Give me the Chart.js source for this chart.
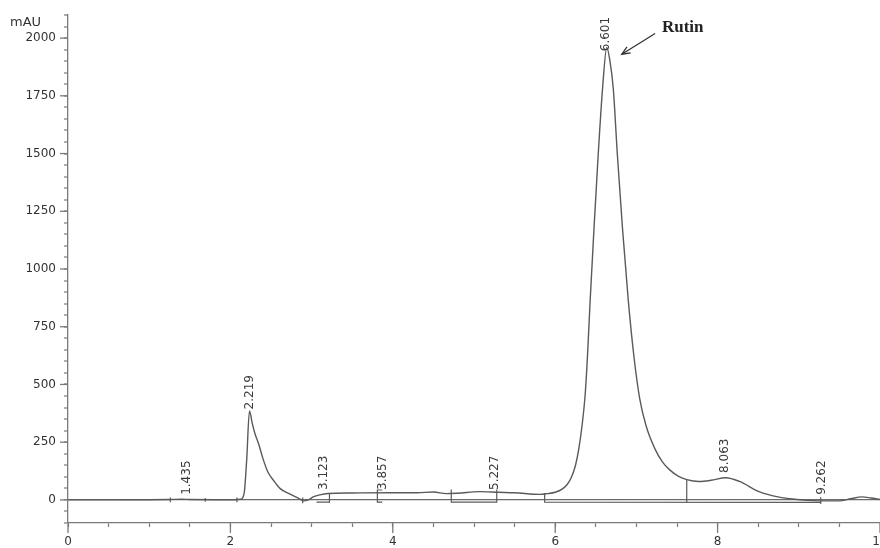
<!DOCTYPE html>
<html>
<head>
<meta charset="utf-8">
<script src="https://cdn.jsdelivr.net/npm/chart.js@4/dist/chart.umd.min.js"></script>
<style>
  html, body { margin: 0; padding: 0; background: #ffffff; }
  #wrap { width: 880px; height: 548px; }
</style>
</head>
<body>
<div id="wrap"><canvas id="c" width="880" height="548"></canvas></div>
<script>
// ---- Data ----
const times = [0, 0.5, 1.0, 1.25, 1.4, 1.5, 1.8, 2.05, 2.13, 2.17, 2.2, 2.235, 2.27, 2.30, 2.35, 2.40, 2.46, 2.53, 2.61, 2.73, 2.85, 2.9, 2.96, 3.02, 3.1, 3.2, 3.5, 4.0, 4.3, 4.5, 4.66, 4.8, 5.07, 5.3, 5.5, 5.81, 5.9, 6.0, 6.09, 6.15, 6.2, 6.25, 6.29, 6.33, 6.37, 6.40, 6.43, 6.48, 6.53, 6.585, 6.635, 6.67, 6.715, 6.765, 6.83, 6.90, 6.97, 7.04, 7.12, 7.23, 7.32, 7.41, 7.52, 7.62, 7.77, 7.92, 8.1, 8.27, 8.51, 8.76, 8.92, 9.1, 9.25, 9.5, 9.64, 9.78, 9.89, 10];
const signal = [0, 0, 1, 2, 3, 2, 1, 1, 3, 30, 170, 385, 330, 290, 240, 180, 122, 85, 50, 26, 5, -4, 0, 13, 22, 28, 30, 31, 31, 34, 27, 29, 36, 33, 31, 24, 27, 33, 48, 68, 98, 150, 220, 320, 460, 640, 860, 1190, 1498, 1790, 1960, 1910, 1783, 1498, 1170, 864, 620, 440, 320, 220, 165, 130, 102, 88, 80, 85, 96, 80, 36, 12, 4, -2, -4, -4, 5, 13, 8, 2];

const peakTimes  = [1.435, 2.219, 3.123, 3.857, 5.227, 6.601, 8.063, 9.262];
const peakLabels = ['1.435', '2.219', '3.123', '3.857', '5.227', '6.601', '8.063', '9.262'];
const labelBase  = [22, 392, 43, 43, 43, 1943, 117, 22];

// integration baseline / event marks  [time, mAU] pairs
const baseSegments = [
  [[1.26, -10], [1.26, 10]],
  [[1.69, -8], [1.69, 8]],
  [[2.08, -10], [2.08, 10]],
  [[2.89, -15], [2.89, 10]],
  [[3.06, -10], [3.22, -10], [3.22, 30]],
  [[3.87, 43], [3.81, 43], [3.81, -10], [3.87, -10]],
  [[4.72, 45], [4.72, -10], [5.28, -10], [5.28, 45]],
  [[5.87, 30], [5.87, -10], [9.27, -11]],
  [[7.62, 88], [7.62, -11]],
  [[9.27, -18], [9.27, 12]]
];

const yTickStep = 50, yLabelStep = 250;
const xTickStep = 0.5, xLabelStep = 2;
const calloutText = 'Rutin';
const calloutTextPos = [7.315, 2025];
const calloutArrow = [[7.23, 2020], [6.82, 1930]];
const unitLabel = 'mAU';

// ---- Chart ----
const lineColor = '#5a5a5a';
const axisColor = '#7a7a7a';
const FONT = '"DejaVu Sans", "Liberation Sans", Arial, sans-serif';

const datasets = [{
  data: times.map((t, i) => ({ x: t, y: signal[i] })),
  borderColor: lineColor,
  borderWidth: 1.4,
  pointRadius: 0,
  cubicInterpolationMode: 'monotone',
  fill: false
}].concat(baseSegments.map(seg => ({
  data: seg.map(p => ({ x: p[0], y: p[1] })),
  borderColor: lineColor,
  borderWidth: 1.2,
  pointRadius: 0,
  tension: 0,
  fill: false
})));

const annot = {
  id: 'annot',
  afterDraw(chart) {
    const { ctx, scales: { x, y } } = chart;
    ctx.save();
    // major ticks (longer)
    ctx.strokeStyle = axisColor;
    ctx.lineWidth = 1.3;
    y.ticks.forEach(t => {
      if (t.value >= 0 && t.value % yLabelStep === 0) {
        const py = y.getPixelForValue(t.value);
        ctx.beginPath(); ctx.moveTo(x.left - 8, py); ctx.lineTo(x.left, py); ctx.stroke();
      }
    });
    x.ticks.forEach(t => {
      if (Math.abs(t.value % xLabelStep) < 1e-9) {
        const px = x.getPixelForValue(t.value);
        ctx.beginPath(); ctx.moveTo(px, y.bottom); ctx.lineTo(px, y.bottom + 10); ctx.stroke();
      }
    });
    // peak retention-time labels (rotated)
    ctx.fillStyle = '#3a3a3a';
    ctx.font = '12px ' + FONT;
    peakTimes.forEach((t, i) => {
      const px = x.getPixelForValue(t) + 2;
      const py = y.getPixelForValue(labelBase[i]);
      ctx.save();
      ctx.translate(px, py);
      ctx.rotate(-Math.PI / 2);
      ctx.textAlign = 'left';
      ctx.textBaseline = 'middle';
      ctx.fillText(peakLabels[i], 0, 0);
      ctx.restore();
    });
    // unit label
    ctx.fillStyle = '#333';
    ctx.font = '13px ' + FONT;
    ctx.textAlign = 'left';
    ctx.textBaseline = 'middle';
    ctx.fillText(unitLabel, 10, 23);
    // Rutin callout
    ctx.fillStyle = '#222';
    ctx.font = 'bold 17px "Liberation Serif", "Times New Roman", serif';
    ctx.textBaseline = 'alphabetic';
    ctx.fillText(calloutText, x.getPixelForValue(calloutTextPos[0]), y.getPixelForValue(calloutTextPos[1]));
    const ax0 = x.getPixelForValue(calloutArrow[0][0]), ay0 = y.getPixelForValue(calloutArrow[0][1]);
    const ax1 = x.getPixelForValue(calloutArrow[1][0]), ay1 = y.getPixelForValue(calloutArrow[1][1]);
    ctx.strokeStyle = '#333';
    ctx.lineWidth = 1.3;
    ctx.beginPath(); ctx.moveTo(ax0, ay0); ctx.lineTo(ax1, ay1); ctx.stroke();
    const ang = Math.atan2(ay1 - ay0, ax1 - ax0);
    const hl = 9;
    ctx.beginPath();
    ctx.moveTo(ax1 - hl * Math.cos(ang - 0.4), ay1 - hl * Math.sin(ang - 0.4));
    ctx.lineTo(ax1, ay1);
    ctx.lineTo(ax1 - hl * Math.cos(ang + 0.4), ay1 - hl * Math.sin(ang + 0.4));
    ctx.stroke();
    ctx.restore();
  }
};

new Chart(document.getElementById('c'), {
  type: 'line',
  data: { datasets },
  plugins: [annot],
  options: {
    responsive: false,
    devicePixelRatio: 1,
    animation: false,
    events: [],
    layout: { padding: { top: 15, right: 0, bottom: 0, left: 0 } },
    plugins: { legend: { display: false }, tooltip: { enabled: false }, title: { display: false } },
    scales: {
      x: {
        type: 'linear',
        min: 0, max: 10,
        border: { display: true, color: axisColor, width: 1.3 },
        grid: { drawOnChartArea: false, tickLength: 4, tickColor: axisColor, tickWidth: 1.2 },
        ticks: {
          stepSize: xTickStep, autoSkip: false, maxRotation: 0, padding: 8,
          color: '#333', font: { family: FONT, size: 12 },
          callback: v => (Math.abs(v % xLabelStep) < 1e-9 ? String(v) : '')
        },
        afterFit(s) { s.height = 25; s.paddingLeft = 0; s.paddingRight = 0; }
      },
      y: {
        type: 'linear',
        min: -100, max: 2100,
        border: { display: true, color: axisColor, width: 1.3 },
        grid: {
          drawOnChartArea: true,
          color: c => (c.tick && c.tick.value === 0 ? '#6a6a6a' : 'rgba(0,0,0,0)'),
          lineWidth: c => (c.tick && c.tick.value === 0 ? 1.3 : 0),
          tickLength: 4, tickColor: axisColor, tickWidth: 1.2
        },
        ticks: {
          stepSize: yTickStep, autoSkip: false, maxTicksLimit: 1000, padding: 8,
          color: '#333', font: { family: FONT, size: 12 },
          callback: v => (v >= 0 && v % yLabelStep === 0 ? String(v) : '')
        },
        afterFit(s) { s.width = 68; s.paddingTop = 0; s.paddingBottom = 0; }
      }
    }
  }
});
</script>
</body>
</html>
